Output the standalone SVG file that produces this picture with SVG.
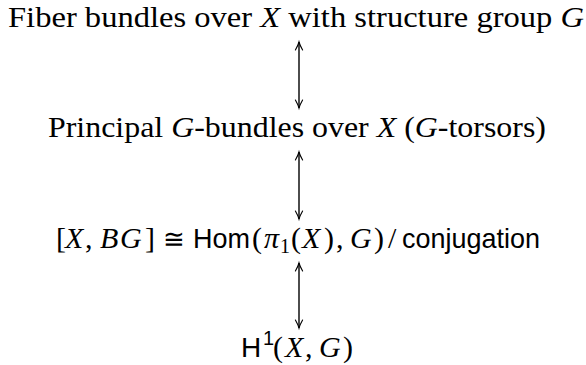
<svg xmlns="http://www.w3.org/2000/svg" width="586" height="365" viewBox="0 0 586 365">
<style>
.rm{font-family:"Liberation Serif","DejaVu Serif",serif;font-size:30px;fill:#000}
.it{font-style:italic}
.sf{font-family:"Liberation Sans","DejaVu Sans",sans-serif;font-size:28px;fill:#000}
.sm{font-size:20px}
.edge{stroke:#000;stroke-width:1.4;fill:none}
.head{stroke:#000;stroke-width:1.1;fill:none;stroke-linecap:round}
</style>
<defs>
<marker id="tip" markerWidth="12" markerHeight="10" refX="9" refY="5" orient="auto-start-reverse" markerUnits="userSpaceOnUse">
<path class="head" d="M1,1.4 Q6,4.2 9,5 Q6,5.8 1,8.6"/>
</marker>
</defs>
<g id="n1"><text class="rm" x="8" y="27" textLength="576" lengthAdjust="spacingAndGlyphs">Fiber bundles over <tspan class="it">X</tspan> with structure group <tspan class="it">G</tspan></text></g>
<g id="n2"><text class="rm" x="48" y="137" textLength="498" lengthAdjust="spacingAndGlyphs">Principal <tspan class="it">G</tspan>-bundles over <tspan class="it">X</tspan> (<tspan class="it">G</tspan>-torsors)</text></g>
<g id="n3">
<text class="rm" y="248"><tspan x="56">[</tspan><tspan class="it" x="65">X</tspan><tspan x="85">,</tspan><tspan class="it" x="100">B</tspan><tspan class="it" x="120">G</tspan><tspan x="145">]</tspan></text>
<text class="rm" x="174" y="248" text-anchor="middle" style="font-family:'DejaVu Serif',serif;font-size:26px">≅</text>
<text class="sf" x="193" y="248" textLength="57" lengthAdjust="spacingAndGlyphs">Hom</text>
<text class="rm" y="248"><tspan x="252">(</tspan><tspan class="it" x="264">π</tspan><tspan class="sm" x="280" dy="5">1</tspan><tspan x="291" dy="-5">(</tspan><tspan class="it" x="302">X</tspan><tspan x="324">)</tspan><tspan x="336">,</tspan><tspan class="it" x="350">G</tspan><tspan x="374">)</tspan></text>
<text class="rm" x="388" y="248">/</text>
<text class="sf" x="402" y="248" textLength="138" lengthAdjust="spacingAndGlyphs">conjugation</text>
</g>
<g id="n4">
<text class="sf" x="241" y="357">H</text>
<text class="sf sm" x="263" y="345">1</text>
<text class="rm" y="357"><tspan x="273">(</tspan><tspan class="it" x="285">X</tspan><tspan x="305">,</tspan><tspan class="it" x="319">G</tspan><tspan x="343">)</tspan></text>
</g>
<g id="edges">
<line class="edge" x1="299" y1="42" x2="299" y2="108" marker-start="url(#tip)" marker-end="url(#tip)"/>
<line class="edge" x1="299" y1="152" x2="299" y2="219" marker-start="url(#tip)" marker-end="url(#tip)"/>
<line class="edge" x1="299" y1="263" x2="299" y2="328" marker-start="url(#tip)" marker-end="url(#tip)"/>
</g>
</svg>
